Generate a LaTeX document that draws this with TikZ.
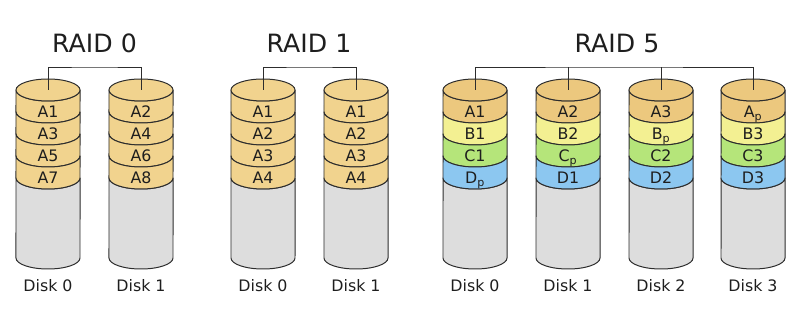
\documentclass[tikz,border=0pt]{standalone}
\usepackage{fontspec}
\setmainfont{DejaVu Sans}
\usetikzlibrary{positioning}

\definecolor{edge}{RGB}{45,45,45}
\definecolor{ink}{RGB}{30,30,30}
\definecolor{blkA}{RGB}{241,211,142}
\definecolor{blkAf}{RGB}{236,200,126}
\definecolor{blkB}{RGB}{243,240,146}
\definecolor{blkC}{RGB}{181,229,122}
\definecolor{blkD}{RGB}{140,199,240}
\definecolor{empty}{RGB}{221,221,221}

% one disk: name, centre x (px), colour/label list, caption
\newcommand{\raiddisk}[4]{%
  \path[shell, fill=empty] (#2-32,178) arc[start angle=180, end angle=360, x radius=0.96cm, y radius=0.33cm]
    -- (#2+32,258) arc[start angle=360, end angle=180, x radius=0.96cm, y radius=0.33cm] -- cycle;
  \foreach \c/\t [count=\i from 0] in {#3} {
    \pgfmathsetmacro\yt{90+22*\i}
    \path[shell, fill=\c] (#2-32,\yt) arc[start angle=180, end angle=360, x radius=0.96cm, y radius=0.33cm]
      -- (#2+32,\yt+22) arc[start angle=360, end angle=180, x radius=0.96cm, y radius=0.33cm] -- cycle;
    \ifnum\i=0
      \path[shell, fill=\c] (#2,90) ellipse[x radius=0.96cm, y radius=0.33cm];
    \fi
    \node[cell] (#1-\i) at (#2,\yt+23.5) {\t};
  }
  \coordinate (#1) at (#2,90);
  \node[disklabel] (#1-cap) at (#2,287.5) {#4};
}

\begin{document}
\begin{tikzpicture}[
  x=0.03cm, y=-0.03cm,
  shell/.style={draw=edge, line width=0.85pt, line join=round},
  cell/.style={font=\fontsize{13.5}{16}\selectfont, text=ink, inner sep=0pt, text height=0.73em, text depth=0pt},
  disklabel/.style={font=\fontsize{13.5}{16}\selectfont, text=ink, inner sep=0pt, text height=0.73em, text depth=0pt},
  title/.style={font=\fontsize{21.5}{25}\selectfont, text=ink, inner sep=0pt, text height=0.73em, text depth=0pt},
  bus/.style={draw=edge, line width=0.85pt}
]
\useasboundingbox (0,0) rectangle (800,314);

% RAID 0
\raiddisk{r0d0}{48}{blkA/A1,blkA/A3,blkA/A5,blkA/A7}{Disk 0}
\raiddisk{r0d1}{141}{blkA/A2,blkA/A4,blkA/A6,blkA/A8}{Disk 1}
\node[title] (raid0) at (94.5,48.5) {RAID 0};
\coordinate (r0bar) at (94.5,67);
\draw[bus] (r0d0) |- (r0bar) -| (r0d1);

% RAID 1
\raiddisk{r1d0}{263}{blkA/A1,blkA/A2,blkA/A3,blkA/A4}{Disk 0}
\raiddisk{r1d1}{356}{blkA/A1,blkA/A2,blkA/A3,blkA/A4}{Disk 1}
\node[title] (raid1) at (309,48.5) {RAID 1};
\coordinate (r1bar) at (309,67);
\draw[bus] (r1d0) |- (r1bar) -| (r1d1);

% RAID 5
\raiddisk{r5d0}{475}{blkAf/A1,blkB/B1,blkC/C1,blkD/D\textsubscript{p}}{Disk 0}
\raiddisk{r5d1}{568}{blkAf/A2,blkB/B2,blkC/C\textsubscript{p},blkD/D1}{Disk 1}
\raiddisk{r5d2}{661}{blkAf/A3,blkB/B\textsubscript{p},blkC/C2,blkD/D2}{Disk 2}
\raiddisk{r5d3}{753}{blkAf/A\textsubscript{p},blkB/B3,blkC/C3,blkD/D3}{Disk 3}
\node[title] (raid5) at (617,48.5) {RAID 5};
\coordinate (r5bar) at (614,67);
\draw[bus] (r5d0) |- (r5bar) -| (r5d3);
\draw[bus] (r5d1) -- (r5d1 |- r5bar);
\draw[bus] (r5d2) -- (r5d2 |- r5bar);

\end{tikzpicture}
\end{document}
